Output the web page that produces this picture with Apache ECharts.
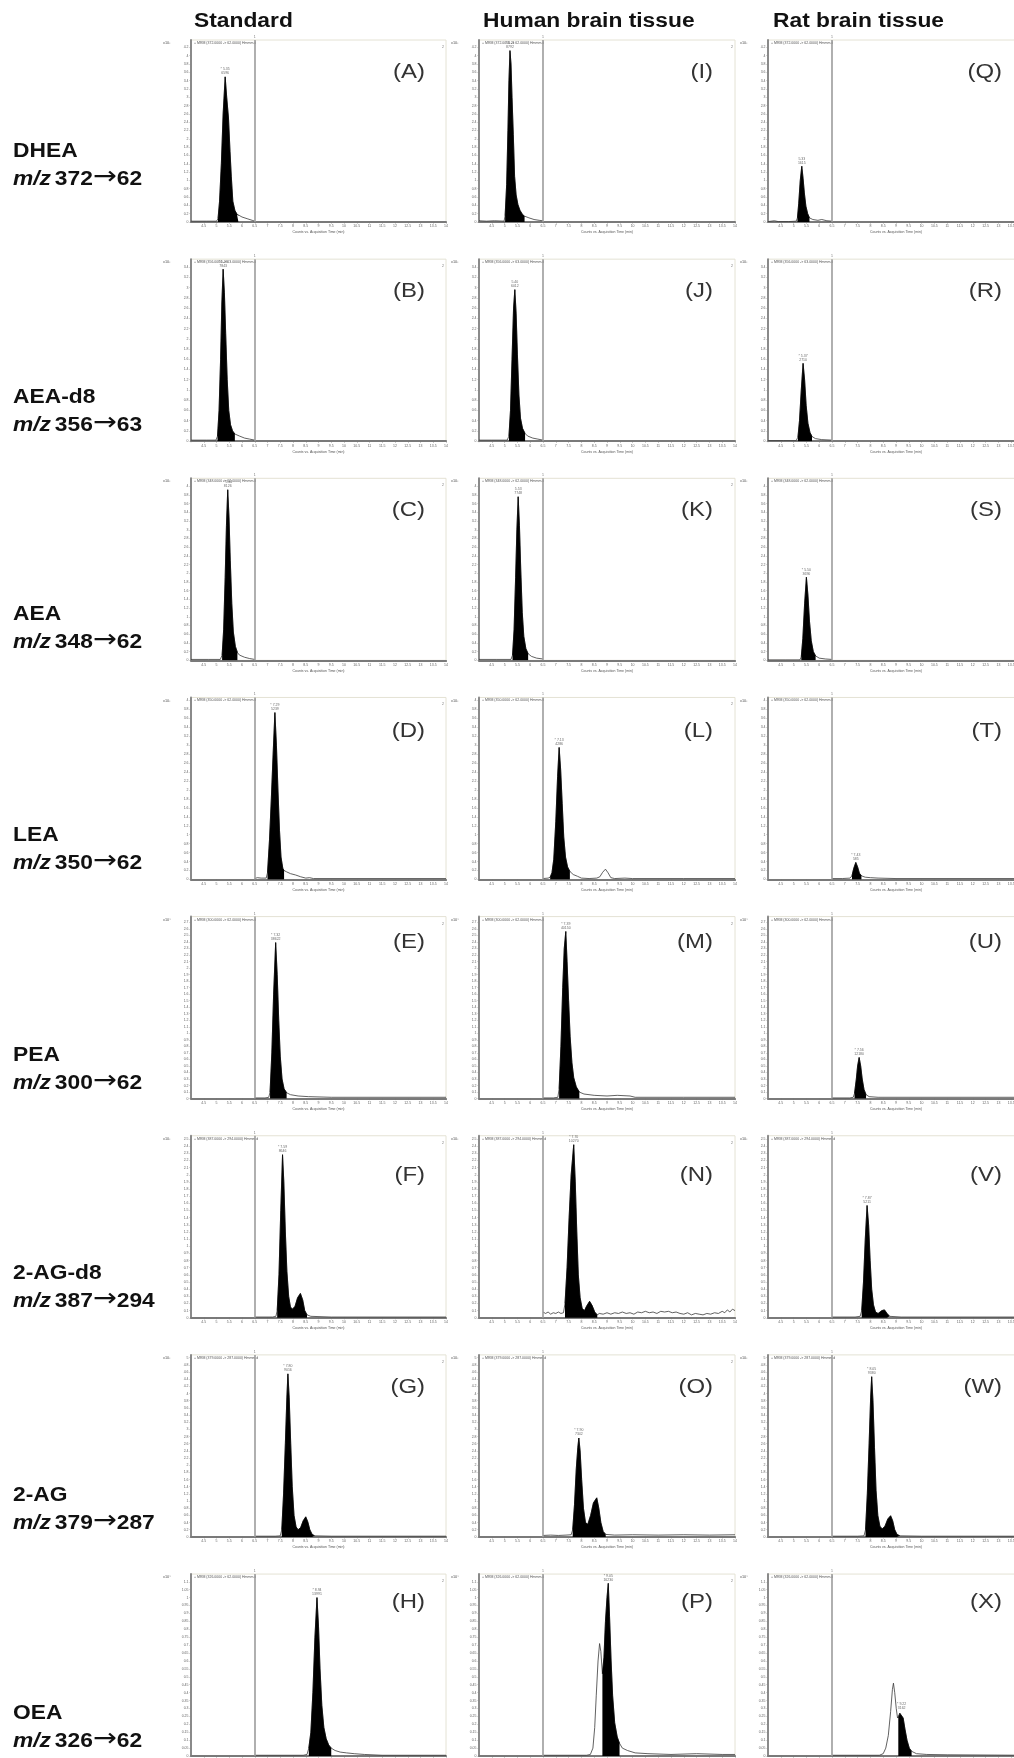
<!DOCTYPE html>
<html><head><meta charset="utf-8">
<script src="https://cdn.jsdelivr.net/npm/echarts@6/dist/echarts.min.js"></script>
<style>html,body{margin:0;padding:0;background:#fff}#c{width:1014px;height:1758px}</style>
</head><body><div id="c"></div>
<script>
// ---------- DATA ----------
const columns = ['Standard', 'Human brain tissue', 'Rat brain tissue'];
const compounds = ['DHEA', 'AEA-d8', 'AEA', 'LEA', 'PEA', '2-AG-d8', '2-AG', 'OEA'];
const precursorIons = ['372', '356', '348', '350', '300', '387', '379', '326'];
const productIons = ['62', '63', '62', '62', '62', '294', '287', '62'];
const mrmHeaders = ['+ MRM (372.0000 -> 62.0000) Hmmm.d', '+ MRM (356.0000 -> 63.0000) Hmmm.d', '+ MRM (348.0000 -> 62.0000) Hmmm.d',
  '+ MRM (350.0000 -> 62.0000) Hmmm.d', '+ MRM (300.0000 -> 62.0000) Hmmm.d', '+ MRM (387.0000 -> 294.0000) Hmmm.d',
  '+ MRM (379.0000 -> 287.0000) Hmmm.d', '+ MRM (326.0000 -> 62.0000) Hmmm.d'];
const exponents = ['x10\u00b3', 'x10\u00b3', 'x10\u00b3', 'x10\u00b3', 'x10\u2074', 'x10\u00b3', 'x10\u00b3', 'x10\u2074'];
const panelLetters = [['A','I','Q'],['B','J','R'],['C','K','S'],['D','L','T'],['E','M','U'],['F','N','V'],['G','O','W'],['H','P','X']];
const xAxisTitle = 'Counts vs. Acquisition Time (min)';
const xMin = 4, xMax = 14, xStep = 0.5;
const yTopLabel = [4.2, 3.4, 4.0, 3.8, 2.6, 2.4, 4.8, 1.1];
const yStep = [0.2, 0.2, 0.2, 0.2, 0.1, 0.1, 0.2, 0.05];
const segmentBreak = 6.5;

// traces: [time (min), counts]
const traceA = [[4.0,0.02],[4.6,0.02],[5.0,0.02],[5.06,0.08],[5.12,0.5],[5.19,1.4],[5.26,2.6],[5.34,3.49],[5.4,3.0],[5.47,2.5],[5.53,1.7],[5.58,1.1],[5.64,0.5],[5.72,0.28],[5.8,0.19],[5.86,0.15],[6.0,0.12],[6.2,0.08],[6.4,0.04],[6.5,0.02]];
const traceI = [[4.0,0.03],[4.3,0.02],[4.6,0.03],[4.98,0.02],[5.02,0.15],[5.08,0.9],[5.13,2.2],[5.17,3.4],[5.21,4.12],[5.25,3.8],[5.29,3.0],[5.34,2.1],[5.39,1.1],[5.45,0.65],[5.52,0.42],[5.6,0.28],[5.7,0.18],[5.78,0.14],[5.95,0.1],[6.15,0.06],[6.35,0.04],[6.5,0.03]];
const traceQ = [[4.0,0.01],[4.25,0.03],[4.4,0.01],[4.8,0.01],[5.1,0.02],[5.15,0.1],[5.2,0.45],[5.26,1.0],[5.32,1.34],[5.37,1.05],[5.42,0.7],[5.48,0.38],[5.55,0.2],[5.62,0.1],[5.75,0.06],[5.95,0.04],[6.1,0.06],[6.3,0.03],[6.5,0.02]];
const traceB = [[4.0,0.02],[4.6,0.02],[4.98,0.02],[5.04,0.1],[5.1,0.6],[5.16,1.6],[5.21,2.7],[5.26,3.36],[5.31,2.9],[5.36,2.1],[5.42,1.2],[5.48,0.6],[5.55,0.32],[5.63,0.2],[5.72,0.14],[5.9,0.1],[6.1,0.06],[6.3,0.04],[6.5,0.02]];
const traceJ = [[4.0,0.02],[4.5,0.02],[5.1,0.02],[5.17,0.1],[5.23,0.6],[5.29,1.6],[5.35,2.6],[5.4,2.96],[5.45,2.5],[5.5,1.7],[5.56,0.9],[5.62,0.45],[5.7,0.25],[5.8,0.15],[5.9,0.1],[6.1,0.06],[6.3,0.04],[6.5,0.02]];
const traceR = [[4.0,0.01],[4.6,0.01],[5.1,0.01],[5.17,0.08],[5.23,0.4],[5.3,1.0],[5.37,1.52],[5.43,1.2],[5.49,0.7],[5.56,0.35],[5.64,0.17],[5.72,0.09],[5.85,0.05],[6.1,0.03],[6.5,0.02]];
const traceC = [[4.0,0.02],[4.7,0.02],[5.15,0.02],[5.22,0.12],[5.28,0.7],[5.34,1.9],[5.39,3.1],[5.44,3.92],[5.49,3.3],[5.54,2.3],[5.6,1.3],[5.66,0.65],[5.74,0.32],[5.82,0.18],[5.9,0.12],[6.1,0.07],[6.3,0.04],[6.5,0.02]];
const traceK = [[4.0,0.02],[4.7,0.02],[5.25,0.02],[5.31,0.12],[5.37,0.7],[5.43,1.9],[5.48,3.0],[5.53,3.76],[5.58,3.1],[5.63,2.1],[5.69,1.1],[5.75,0.55],[5.83,0.27],[5.92,0.15],[6.05,0.09],[6.25,0.05],[6.5,0.03]];
const traceS = [[4.0,0.01],[4.7,0.01],[5.25,0.01],[5.3,0.08],[5.36,0.5],[5.43,1.3],[5.5,1.91],[5.56,1.5],[5.62,0.9],[5.69,0.45],[5.77,0.2],[5.86,0.1],[6.0,0.05],[6.25,0.03],[6.5,0.02]];
const traceD = [[6.5,0.02],[6.6,0.04],[6.75,0.03],[6.95,0.03],[7.0,0.15],[7.08,0.9],[7.15,1.8],[7.22,2.8],[7.29,3.73],[7.35,3.0],[7.41,2.0],[7.47,1.1],[7.53,0.5],[7.6,0.25],[7.65,0.2],[7.75,0.17],[7.9,0.13],[8.1,0.1],[8.3,0.06],[8.5,0.03],[8.65,0.04],[8.8,0.02],[10,0.02],[12,0.02],[14,0.02]];
const traceL = [[6.5,0.02],[6.7,0.03],[6.78,0.05],[6.85,0.15],[6.92,0.45],[7.0,1.3],[7.07,2.3],[7.13,2.95],[7.19,2.45],[7.25,1.7],[7.31,0.95],[7.38,0.5],[7.46,0.28],[7.55,0.18],[7.68,0.11],[7.85,0.07],[8.0,0.03],[8.3,0.02],[8.6,0.03],[8.72,0.06],[8.83,0.16],[8.94,0.23],[9.04,0.15],[9.15,0.04],[9.3,0.02],[9.7,0.03],[10.0,0.02],[12,0.02],[14,0.02]];
const traceT = [[6.5,0.02],[6.9,0.02],[7.2,0.03],[7.28,0.08],[7.35,0.25],[7.43,0.38],[7.5,0.28],[7.57,0.14],[7.65,0.08],[7.8,0.05],[8.0,0.04],[8.3,0.03],[9.0,0.02],[14,0.02]];
const traceE = [[6.5,0.01],[6.9,0.01],[7.05,0.02],[7.1,0.1],[7.17,0.7],[7.24,1.6],[7.32,2.39],[7.38,1.9],[7.44,1.2],[7.5,0.65],[7.57,0.3],[7.65,0.15],[7.75,0.09],[7.9,0.06],[8.2,0.04],[8.6,0.03],[9.5,0.02],[14,0.02]];
const traceM = [[6.5,0.01],[6.9,0.01],[7.08,0.02],[7.13,0.15],[7.2,0.8],[7.27,1.7],[7.33,2.3],[7.39,2.56],[7.44,2.1],[7.5,1.5],[7.56,0.95],[7.63,0.55],[7.7,0.32],[7.8,0.18],[7.92,0.1],[8.1,0.07],[8.5,0.05],[9.0,0.04],[9.4,0.05],[9.9,0.04],[10.1,0.02],[12,0.02],[14,0.02]];
const traceU = [[6.5,0.01],[7.2,0.01],[7.33,0.02],[7.38,0.08],[7.45,0.3],[7.5,0.5],[7.56,0.63],[7.62,0.5],[7.68,0.3],[7.75,0.14],[7.83,0.06],[7.95,0.03],[8.3,0.02],[14,0.02]];
const traceF = [[6.5,0.01],[7.2,0.01],[7.33,0.02],[7.38,0.1],[7.45,0.6],[7.52,1.5],[7.59,2.28],[7.64,1.9],[7.7,1.2],[7.76,0.65],[7.83,0.3],[7.9,0.15],[7.98,0.12],[8.08,0.16],[8.18,0.28],[8.29,0.34],[8.38,0.25],[8.46,0.1],[8.55,0.04],[8.7,0.02],[9.5,0.01],[14,0.01]];
const traceN = [[6.5,0.08],[6.6,0.06],[6.7,0.08],[6.8,0.05],[6.9,0.07],[7.0,0.06],[7.1,0.08],[7.2,0.06],[7.3,0.07],[7.36,0.2],[7.44,0.7],[7.52,1.4],[7.6,2.0],[7.7,2.42],[7.76,1.9],[7.82,1.2],[7.88,0.6],[7.95,0.28],[8.03,0.13],[8.12,0.1],[8.2,0.16],[8.32,0.23],[8.42,0.17],[8.52,0.08],[8.62,0.04],[8.7,0.06],[8.85,0.05],[9.0,0.07],[9.15,0.05],[9.3,0.07],[9.45,0.06],[9.6,0.08],[9.75,0.06],[9.9,0.07],[10.05,0.05],[10.2,0.08],[10.35,0.07],[10.5,0.09],[10.65,0.07],[10.8,0.08],[10.95,0.06],[11.1,0.09],[11.25,0.08],[11.4,0.09],[11.55,0.07],[11.7,0.08],[11.85,0.06],[12.0,0.05],[12.15,0.07],[12.3,0.04],[12.45,0.06],[12.6,0.05],[12.75,0.04],[12.9,0.06],[13.05,0.05],[13.2,0.07],[13.35,0.06],[13.5,0.09],[13.6,0.07],[13.7,0.11],[13.8,0.08],[13.9,0.12],[14.0,0.1]];
const traceV = [[6.5,0.01],[7.4,0.01],[7.6,0.02],[7.66,0.1],[7.73,0.5],[7.8,1.1],[7.87,1.57],[7.93,1.3],[7.99,0.8],[8.05,0.4],[8.12,0.18],[8.2,0.08],[8.3,0.06],[8.45,0.1],[8.55,0.11],[8.65,0.06],[8.75,0.02],[9.2,0.01],[14,0.01]];
const traceG = [[6.5,0.02],[7.3,0.02],[7.5,0.03],[7.56,0.2],[7.63,1.2],[7.7,2.6],[7.76,3.9],[7.8,4.55],[7.85,3.9],[7.91,2.6],[7.97,1.4],[8.04,0.6],[8.12,0.28],[8.2,0.2],[8.3,0.26],[8.4,0.45],[8.5,0.56],[8.58,0.42],[8.66,0.2],[8.75,0.07],[8.85,0.03],[9.5,0.02],[14,0.02]];
const traceO = [[6.5,0.04],[6.8,0.05],[7.1,0.04],[7.4,0.05],[7.6,0.06],[7.66,0.2],[7.73,0.9],[7.8,1.9],[7.86,2.5],[7.9,2.76],[7.95,2.4],[8.01,1.6],[8.08,0.8],[8.16,0.4],[8.25,0.35],[8.36,0.6],[8.47,0.95],[8.6,1.09],[8.68,0.8],[8.76,0.4],[8.85,0.15],[8.95,0.07],[9.3,0.05],[10,0.06],[11,0.05],[12,0.06],[13,0.05],[14,0.06]];
const traceW = [[6.5,0.02],[7.5,0.02],[7.75,0.03],[7.81,0.2],[7.88,1.2],[7.95,2.6],[8.01,3.9],[8.05,4.47],[8.1,3.8],[8.16,2.5],[8.22,1.3],[8.29,0.6],[8.37,0.3],[8.46,0.22],[8.57,0.3],[8.68,0.5],[8.79,0.59],[8.87,0.45],[8.95,0.2],[9.04,0.07],[9.15,0.03],[10,0.02],[14,0.02]];
const traceH = [[6.5,0.005],[8.4,0.005],[8.55,0.01],[8.62,0.05],[8.7,0.15],[8.78,0.4],[8.86,0.75],[8.94,1.0],[9.0,0.82],[9.06,0.55],[9.13,0.32],[9.21,0.18],[9.3,0.11],[9.4,0.07],[9.5,0.05],[9.65,0.035],[9.85,0.025],[10.1,0.02],[10.4,0.015],[10.8,0.01],[11.5,0.005],[14,0.005]];
const traceP = [[6.5,0.005],[8.2,0.005],[8.35,0.01],[8.45,0.05],[8.52,0.18],[8.58,0.38],[8.65,0.6],[8.71,0.71],[8.76,0.66],[8.82,0.52],[8.88,0.62],[8.94,0.85],[9.0,1.0],[9.05,1.09],[9.1,0.88],[9.16,0.6],[9.22,0.38],[9.3,0.21],[9.4,0.12],[9.49,0.08],[9.6,0.05],[9.8,0.035],[10.1,0.02],[10.6,0.015],[11.5,0.01],[12.5,0.015],[13.5,0.01],[14,0.01]];
const traceX = [[6.5,0.005],[8.35,0.005],[8.5,0.015],[8.6,0.05],[8.7,0.13],[8.79,0.28],[8.86,0.42],[8.9,0.46],[8.95,0.4],[9.01,0.3],[9.06,0.24],[9.09,0.24],[9.15,0.27],[9.22,0.28],[9.28,0.24],[9.35,0.17],[9.43,0.1],[9.52,0.05],[9.61,0.03],[9.8,0.015],[10.2,0.01],[11.0,0.008],[14,0.005]];

// integration windows (min)
const fillRanges = [
  [[5.06,5.86],[5.02,5.78],[5.15,5.62]],
  [[5.04,5.72],[5.17,5.85],[5.17,5.72]],
  [[5.22,5.86],[5.31,5.92],[5.3,5.86]],
  [[7.0,7.65],[6.78,7.55],[7.28,7.65]],
  [[7.1,7.75],[7.13,7.92],[7.38,7.9]],
  [[7.38,8.55],[7.33,8.62],[7.66,8.75]],
  [[7.56,8.85],[7.66,8.95],[7.81,9.15]],
  [[8.6,9.5],[8.82,9.49],[9.09,9.61]]
];
const peakTexts = [
  [['* 5.35','6596'],['* 5.21','8792'],['5.33','1615']],
  [['* 5.26','7843'],['5.40','6012'],['* 5.37','2710']],
  [['* 5.44','8126'],['5.53','7748'],['* 5.50','3690']],
  [['* 7.29','5239'],['* 7.13','4286'],['* 7.43','585']],
  [['* 7.32','38622'],['* 7.39','40150'],['* 7.56','12180']],
  [['* 7.59','8646'],['* 7.70','10270'],['* 7.87','5211']],
  [['* 7.80','9016'],['* 7.90','7342'],['* 8.05','9380']],
  [['* 8.94','13991'],['* 9.05','16230'],['* 9.22','3162']]
];
const traces = [
  [traceA, traceI, traceQ], [traceB, traceJ, traceR], [traceC, traceK, traceS], [traceD, traceL, traceT],
  [traceE, traceM, traceU], [traceF, traceN, traceV], [traceG, traceO, traceW], [traceH, traceP, traceX]
];

// ---------- LAYOUT ----------
const colAxisX = [191, 479, 768];
const colW = [255, 256, 256];
const BASE0 = 222, ROW_PITCH = 219.15, FRAME_H = 182;
const labelPx = [174.7, 174, 174, 170, 169.7, 171.6, 172, 174.3];
const rowNameY = [151, 397, 614, 835, 1055, 1273, 1495, 1713];
const letterDy = [32, 32, 32, 34, 26, 39, 32, 28];
const colHeaderX = [194, 483, 773];
const FONT = '"Liberation Sans", Arial, sans-serif';
const SX = 1.14;

const grids = [], xAxes = [], yAxes = [], series = [], graphics = [];

for (let r = 0; r < 8; r++) {
  const base = BASE0 + r * ROW_PITCH;
  const top = base - FRAME_H;
  for (let c = 0; c < 3; c++) {
    const i = r * 3 + c;
    grids.push({left: colAxisX[c], top: top, width: colW[c], height: FRAME_H, show: true,
      borderColor: '#e4e2d4', borderWidth: 1, backgroundColor: 'transparent', containLabel: false, outerBoundsMode: 'none'});
    xAxes.push({type: 'value', gridIndex: i, min: xMin, max: xMax, interval: xStep,
      axisLine: {show: true, onZero: false, lineStyle: {color: '#7a7a7a', width: 2}},
      axisTick: {show: true, length: 1.5, lineStyle: {color: '#777', width: 0.6}},
      axisLabel: {fontSize: 3.5, color: '#666', margin: 2.5, showMinLabel: false, fontFamily: FONT},
      splitLine: {show: false},
      name: xAxisTitle, nameLocation: 'middle', nameGap: 8.5,
      nameTextStyle: {fontSize: 3.5, color: '#555', fontFamily: FONT}});
    yAxes.push({type: 'value', gridIndex: i, min: 0, max: yTopLabel[r] * FRAME_H / labelPx[r], interval: yStep[r],
      axisLine: {show: true, lineStyle: {color: '#8a8a8a', width: 2}},
      axisTick: {show: true, length: 1.5, lineStyle: {color: '#888', width: 0.6}},
      axisLabel: {fontSize: 3.5, color: '#666', margin: 2.5, showMaxLabel: false, fontFamily: FONT,
        formatter: v => String(+v.toFixed(2))},
      splitLine: {show: false}});

    const tr = traces[r][c];
    const fr = fillRanges[r][c];
    const fillPts = tr.filter(p => p[0] >= fr[0] - 1e-9 && p[0] <= fr[1] + 1e-9);
    let apex = fillPts[0];
    fillPts.forEach(p => { if (p[1] > apex[1]) apex = p; });

    series.push({type: 'line', xAxisIndex: i, yAxisIndex: i, data: tr, showSymbol: false, symbol: 'none',
      lineStyle: {color: '#3a3a3a', width: 0.8}, animation: false, z: 3,
      markLine: {silent: true, symbol: ['none', 'none'], animation: false,
        lineStyle: {color: '#9c9c9c', width: 1.6, type: 'solid'},
        label: {show: true, position: 'end', formatter: '1', fontSize: 3.5, color: '#777', distance: 1},
        data: [{xAxis: segmentBreak}]}});
    series.push({type: 'line', xAxisIndex: i, yAxisIndex: i, data: fillPts, showSymbol: false, symbol: 'none',
      lineStyle: {color: '#000', width: 0.6}, areaStyle: {color: '#000', opacity: 1}, animation: false, z: 4});
    series.push({type: 'scatter', xAxisIndex: i, yAxisIndex: i, data: [apex], symbolSize: 0, animation: false, z: 5,
      label: {show: true, position: 'top', distance: 1.5, fontSize: 3.5, lineHeight: 4, color: '#444', fontFamily: FONT,
        formatter: () => peakTexts[r][c].join('\n')}});

    const ax = colAxisX[c];
    graphics.push({type: 'text', x: ax - 28, y: top + 3, style: {text: exponents[r], fontSize: 3.8, fill: '#555', fontFamily: FONT, textVerticalAlign: 'middle'}});
    graphics.push({type: 'text', x: ax + 3, y: top + 3, style: {text: mrmHeaders[r], fontSize: 3.5, fill: '#555', fontFamily: FONT, textVerticalAlign: 'middle'}});
    graphics.push({type: 'text', x: ax + colW[c] - 2, y: top + 7, style: {text: '2', fontSize: 3.5, fill: '#777', fontFamily: FONT, textAlign: 'right', textVerticalAlign: 'middle'}});
    graphics.push({type: 'text', x: ax + 234, y: top + letterDy[r], scaleX: SX,
      style: {text: '(' + panelLetters[r][c] + ')', fontSize: 21, fill: '#333', fontFamily: FONT, textAlign: 'right', textVerticalAlign: 'middle'}});
  }
  graphics.push({type: 'text', x: 13, y: rowNameY[r], scaleX: SX,
    style: {text: compounds[r], fontSize: 20, fontWeight: 'bold', fill: '#111', fontFamily: FONT, textVerticalAlign: 'middle'}});
  graphics.push({type: 'text', x: 13, y: rowNameY[r] + 28, scaleX: SX,
    style: {text: '{i|m/z} {b|' + precursorIons[r] + '}{a|\u2192}{b|' + productIons[r] + '}', fill: '#111', fontFamily: FONT, textVerticalAlign: 'middle',
      rich: {i: {fontSize: 20, fontWeight: 'bold', fontStyle: 'italic', fontFamily: FONT, fill: '#111', verticalAlign: 'middle'},
             b: {fontSize: 20, fontWeight: 'bold', fontFamily: FONT, fill: '#111', verticalAlign: 'middle'},
             a: {fontSize: 25, fontWeight: 'normal', fontFamily: '"DejaVu Sans", sans-serif', fill: '#111', verticalAlign: 'middle', padding: [0, 0, 3, 0]}}}});
}
columns.forEach((t, c) => {
  graphics.push({type: 'text', x: colHeaderX[c], y: 21, scaleX: SX,
    style: {text: t, fontSize: 20, fontWeight: 'bold', fill: '#111', fontFamily: FONT, textVerticalAlign: 'middle'}});
});

const chart = echarts.init(document.getElementById('c'), null, {renderer: 'canvas', width: 1014, height: 1758});
chart.setOption({
  animation: false,
  backgroundColor: '#fff',
  grid: grids, xAxis: xAxes, yAxis: yAxes, series: series, graphic: graphics
});
</script></body></html>
